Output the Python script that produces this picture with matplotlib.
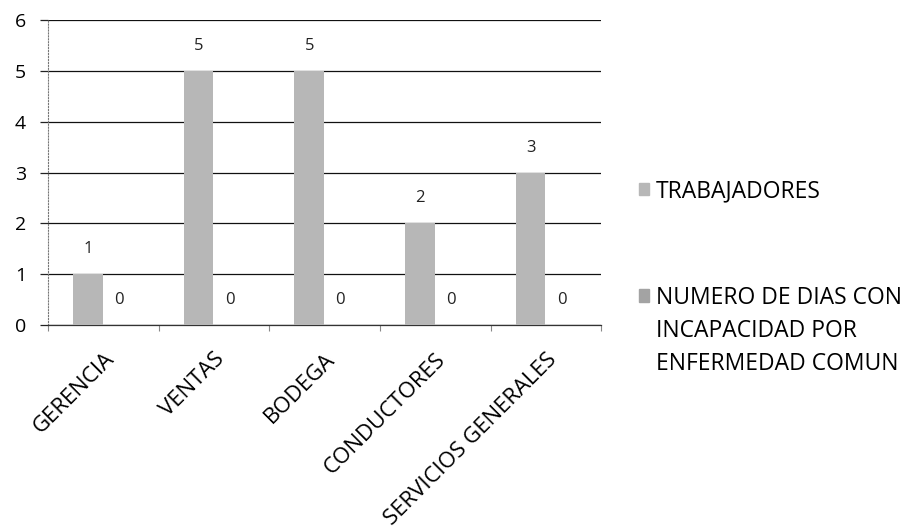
import numpy as np
import matplotlib.pyplot as plt
from matplotlib.patches import Patch

plt.rcParams['font.family'] = ['Open Sans', 'DejaVu Sans']

areas = ['GERENCIA', 'VENTAS', 'BODEGA', 'CONDUCTORES', 'SERVICIOS GENERALES']
trabajadores = [1, 5, 5, 2, 3]
dias_incapacidad = [0, 0, 0, 0, 0]
serie_1 = 'TRABAJADORES'
serie_2 = ['NUMERO DE DIAS CON', 'INCAPACIDAD POR', 'ENFERMEDAD COMUN']

color_1 = '#b7b7b7'
color_2 = '#a3a3a3'

fig = plt.figure(figsize=(9.07, 5.32), dpi=100)
ax = fig.add_axes([0.053, 0.389, 0.610, 0.573])

x = np.arange(len(areas))
w = 0.27
b1 = ax.bar(x - 0.14, trabajadores, w, color=color_1, zorder=3)
b2 = ax.bar(x + 0.14, dias_incapacidad, w, color=color_2, zorder=3)

# value labels over each bar
for bars, vals in ((b1, trabajadores), (b2, dias_incapacidad)):
    for rect, v in zip(bars, vals):
        ax.annotate(str(v), (rect.get_x() + rect.get_width() / 2, v),
                    xytext=(0, 18), textcoords='offset points',
                    ha='center', va='center', fontsize=12, color='#222222')

ax.set_xlim(-0.5, len(areas) - 0.5)
ax.set_ylim(0, 6)
ax.set_yticks(range(7))
ax.yaxis.grid(True, color='#111111', linewidth=0.9, zorder=0)
ax.tick_params(axis='y', length=6, width=0.9, color='#222222',
               labelsize=14, pad=10)

# small marks between categories, names centred under each pair of bars
ax.set_xticks(np.arange(len(areas) + 1) - 0.5)
ax.set_xticklabels([])
ax.tick_params(axis='x', length=4, color='#888888', direction='out')
ax.set_xticks(x, minor=True)
ax.set_xticklabels(areas, minor=True, rotation=45, ha='right',
                   rotation_mode='anchor', fontsize=16)
ax.tick_params(axis='x', which='minor', length=0, pad=17)

for s in ['top', 'right']:
    ax.spines[s].set_visible(False)
ax.spines['left'].set_linestyle(':')
ax.spines['left'].set_color('#777777')
ax.spines['bottom'].set_color('#333333')
ax.spines['bottom'].set_linewidth(0.9)

leg_kw = dict(frameon=False, fontsize=16.5, handlelength=0.45,
              handleheight=0.45, handletextpad=0.3, borderpad=0,
              borderaxespad=0, loc='center left')
fig.legend([Patch(color=color_1)], [serie_1],
           bbox_to_anchor=(0.704, 0.641), **leg_kw)
fig.legend([Patch(color=color_2), Patch(alpha=0), Patch(alpha=0)], serie_2,
           bbox_to_anchor=(0.704, 0.378), labelspacing=0.4, **leg_kw)

fig.savefig('out.png', dpi=100)
